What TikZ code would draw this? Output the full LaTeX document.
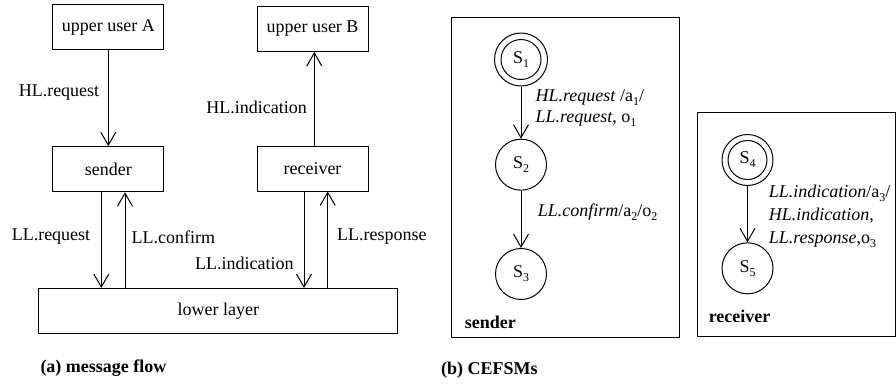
\documentclass[tikz,border=0pt]{standalone}
\usepackage{fontspec}
\setmainfont{Liberation Serif}
\usetikzlibrary{arrows.meta}
\newcommand{\sbs}[1]{\raisebox{-4pt}{\fontsize{12}{12}\selectfont #1}}
\begin{document}
\begin{tikzpicture}[x=1pt,y=-1pt,
  font=\fontsize{18}{21}\selectfont, line width=1pt,
  blk/.style={draw, inner sep=0pt, minimum width=111pt, minimum height=45pt},
  lbl/.style={inner sep=0pt},
  arr/.style={-{Straight Barb[length=13pt,width=15pt,line width=1pt]}},
  st/.style={draw, circle, inner sep=0pt, minimum size=51pt},
  ist/.style={draw, circle, inner sep=0pt, minimum size=53pt},
  frm/.style={draw, inner sep=0pt}
]
\useasboundingbox (0,0) rectangle (896,383);

% ---------- (a) message flow ----------
\node[blk] (ua) at (108.3,27) {upper user A};
\node[blk] (ub) at (312.5,29) {upper user B};
\node[blk] (snd) at (108.3,169.2) {sender};
\node[blk] (rcv) at (312.5,168.5) {receiver};
\node[blk, minimum width=358.7pt] (low) at (218.3,311) {lower layer};

\draw[arr] (ua.south) -- (snd.north);
\draw[arr] ([xshift=1.8pt]rcv.north) -- ([xshift=1.8pt]ub.south);
\draw[arr] ([xshift=-7pt]snd.south) -- ([xshift=-7pt]snd.south |- low.north);
\draw[arr] ([xshift=16.7pt]snd.south |- low.north) -- ([xshift=16.7pt]snd.south);
\draw[arr] ([xshift=-8.5pt]rcv.south) -- ([xshift=-8.5pt]rcv.south |- low.north);
\draw[arr] ([xshift=15.2pt]rcv.south |- low.north) -- ([xshift=15.2pt]rcv.south);

\node[lbl] (lhr) at (59,93) {HL.request};
\node[lbl] (lhi) at (256.5,107) {HL.indication};
\node[lbl] (llr) at (51,237) {LL.request};
\node[lbl] (llc) at (173.3,237) {LL.confirm};
\node[lbl] (lli) at (244.3,263) {LL.indication};
\node[lbl, anchor=west] (llrs) at (336.7,237) {LL.response};

\node[lbl, anchor=west, font=\fontsize{18}{21}\selectfont\bfseries] (capa) at (40,367.7) {(a) message flow};

% ---------- (b) CEFSMs ----------
\node[frm, minimum width=227.6pt, minimum height=320.4pt] (fs) at (565.5,177.5) {};
\node[frm, minimum width=198.2pt, minimum height=224pt] (fr) at (796.4,224.7) {};

\node[ist] (s1) at (521,59.5) {S\sbs{1}};
\draw (s1.center) circle (20pt);
\node[st] (s2) at (521,164.7) {S\sbs{2}};
\node[st] (s3) at (521,274) {S\sbs{3}};
\node[ist, minimum size=51pt] (s4) at (747.5,160) {S\sbs{4}};
\draw (s4.center) circle (19.5pt);
\node[st] (s5) at (747.5,268.3) {S\sbs{5}};

\draw[arr] (s1.south) -- (s2.north);
\draw[arr] (s2.south) -- (s3.north);
\draw[arr] (s4.south) -- (s5.north);

\node[lbl, anchor=west, align=left] (t1) at (535,108) {\textit{HL.request} /a\sbs{1}/\\\textit{LL.request}, o\sbs{1}};
\node[lbl, anchor=west] (t2) at (537.3,212) {\textit{LL.confirm}/a\sbs{2}/o\sbs{2}};
\node[lbl, anchor=west, align=left, font=\fontsize{18}{23}\selectfont] (t3) at (768.3,216.5) {\textit{LL.indication}/a\sbs{3}/\\\textit{HL.indication},\\\textit{LL.response},o\sbs{3}};

\node[lbl, anchor=west, font=\fontsize{18}{21}\selectfont\bfseries] (ls) at (464.3,322.7) {sender};
\node[lbl, anchor=west, font=\fontsize{18}{21}\selectfont\bfseries] (lr) at (708.3,316) {receiver};
\node[lbl, anchor=west, font=\fontsize{18}{21}\selectfont\bfseries] (capb) at (440.7,370) {(b) CEFSMs};
\end{tikzpicture}
\end{document}
